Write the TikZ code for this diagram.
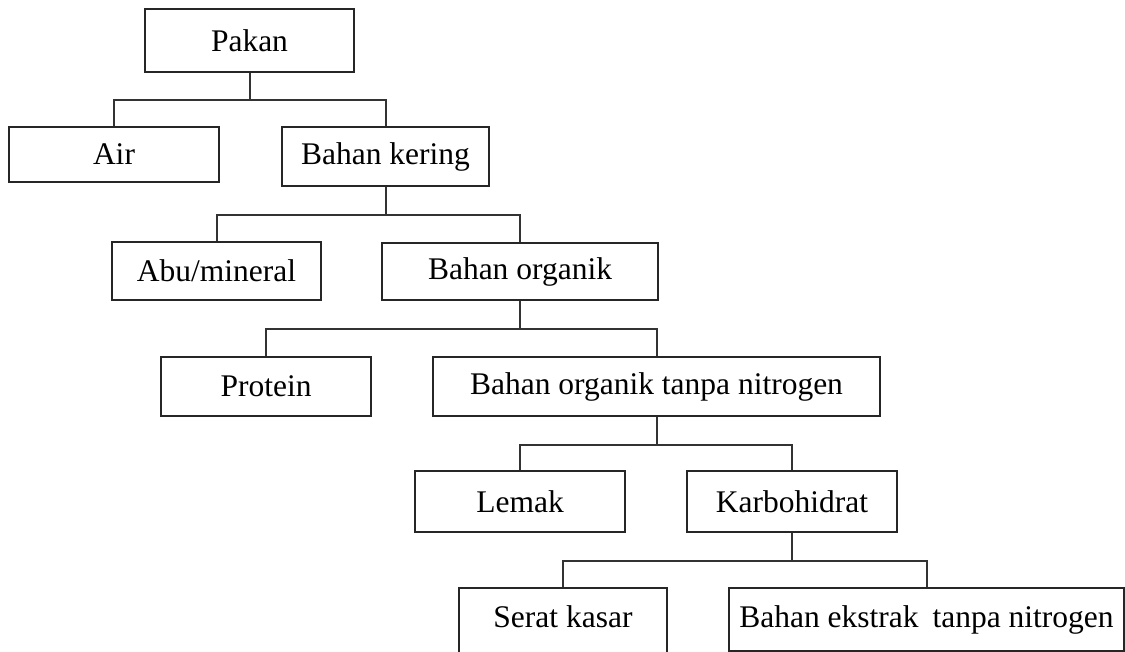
\documentclass[tikz,border=0pt]{standalone}
\usepackage{fontspec}
\setmainfont{Liberation Serif}
\usepackage{tikz}
\usetikzlibrary{calc}

\tikzset{
	box/.style={draw=black!85, line width=1pt, inner sep=0pt,
		minimum height=29.5pt, align=center,
		font=\fontsize{15.75}{18}\selectfont},
	link/.style={draw=black!80, line width=1pt}
}

\begin{document}
\begin{tikzpicture}[x=0.5pt, y=-0.5pt]
	% Frame
	\useasboundingbox (0,0) rectangle (1125,652);
	\clip (0,0) rectangle (1125,652);

	% Boxes
	\node[box, minimum width=104.5pt, minimum height=31.5pt] (pakan) at (249.5,40.5) {Pakan};

	\node[box, minimum width=105pt, minimum height=27.5pt] (air) at (114,154.5) {Air};
	\node[box, minimum width=103.5pt] (kering) at (385.5,156.5) {Bahan kering};

	\node[box, minimum width=104.5pt, minimum height=29pt] (abu) at (216.5,271) {Abu/mineral};
	\node[box, minimum width=138pt, minimum height=28.5pt] (organik) at (520,271.5) {Bahan organik};

	\node[box, minimum width=105pt] (protein) at (266,386.5) {Protein};
	\node[box, minimum width=223.5pt] (botn) at (656.5,386.5) {Bahan organik tanpa nitrogen};

	\node[box, minimum width=105pt, minimum height=30.5pt] (lemak) at (520,501.5) {Lemak};
	\node[box, minimum width=105pt, minimum height=30.5pt] (karbo) at (792,501.5) {Karbohidrat};

	% Serat kasar runs past the lower edge
	\node[box, minimum width=104pt, minimum height=0pt,
		text height=19.5pt, text depth=22pt, anchor=base] (serat) at (563,627) {Serat kasar};
	\node[box, minimum width=197.5pt, minimum height=31.5pt] (ekstrak) at (926.5,619.5) {Bahan ekstrak\hspace{3pt} tanpa nitrogen};

	% Connectors
	\draw[link] (pakan.south) -- ++(0,27) coordinate (b1);
	\draw[link] (air.north) |- (b1) -| (kering.north);

	\draw[link] (kering.south) -- ++(0,28) coordinate (b2);
	\draw[link] (abu.north) |- (b2) -| (organik.north);

	\draw[link] (organik.south) -- ++(0,28) coordinate (b3);
	\draw[link] (protein.north) |- (b3) -| (botn.north);

	\draw[link] (botn.south) -- ++(0,28) coordinate (b4);
	\draw[link] (lemak.north) |- (b4) -| (karbo.north);

	\draw[link] (karbo.south) -- ++(0,28) coordinate (b5);
	\draw[link] (serat.north) |- (b5) -| (ekstrak.north);
\end{tikzpicture}
\end{document}
